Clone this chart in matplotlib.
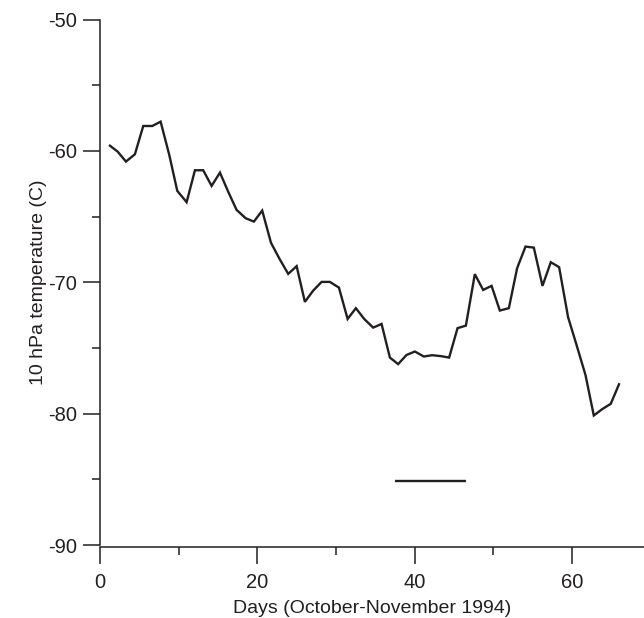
import matplotlib
matplotlib.use("Agg")
import matplotlib.pyplot as plt
from matplotlib.ticker import MultipleLocator

plt.rcParams['font.family'] = ['Liberation Sans', 'DejaVu Sans']

# Day positions (61 daily points)
days = [1.23, 2.21, 3.27, 4.41, 5.47, 6.62, 7.68, 8.78, 9.80, 10.99,
        12.05, 13.10, 14.17, 15.23, 16.28, 17.35, 18.50, 19.55, 20.61, 21.72,
        22.77, 23.92, 24.99, 26.04, 27.10, 28.17, 29.22, 30.37, 31.48, 32.53,
        33.59, 34.73, 35.80, 36.86, 37.91, 38.98, 40.04, 41.18, 42.24, 43.35,
        44.40, 45.47, 46.53, 47.67, 48.73, 49.80, 50.85, 52.00, 53.05, 54.12,
        55.18, 56.28, 57.34, 58.40, 59.54, 60.61, 61.75, 62.81, 63.87, 64.97,
        66.02]

temperature = [-59.60, -60.05, -60.81, -60.25, -58.10, -58.10, -57.77, -60.30, -63.04, -63.90,
               -61.47, -61.47, -62.66, -61.65, -63.10, -64.49, -65.12, -65.38, -64.54, -66.98,
               -68.17, -69.36, -68.77, -71.49, -70.63, -69.97, -69.97, -70.40, -72.79, -71.97,
               -72.79, -73.45, -73.17, -75.73, -76.23, -75.53, -75.27, -75.65, -75.55, -75.62,
               -75.73, -73.49, -73.30, -69.38, -70.58, -70.27, -72.15, -71.97, -68.93, -67.28,
               -67.36, -70.27, -68.47, -68.85, -72.66, -74.76, -77.05, -80.14, -79.66, -79.25,
               -77.76]

# Horizontal reference bar
bar_days = [37.5, 46.5]
bar_temp = [-85.1, -85.1]

xticks = [0, 20, 40, 60]
yticks = [-90, -80, -70, -60, -50]

ink = '#231f20'

fig = plt.figure(figsize=(6.44, 6.18), dpi=100)
ax = fig.add_axes([0.1557, 0.1181, 0.8443, 0.8502])

ax.plot(days, temperature, color=ink, lw=1.7, solid_joinstyle='miter')
ax.plot(bar_days, bar_temp, color=ink, lw=1.7, solid_capstyle='butt')

ax.set_xlim(0, 69.2)
ax.set_ylim(-90, -50)
ax.set_xticks(xticks)
ax.set_yticks(yticks)
ax.set_xticklabels([str(t) for t in xticks])
ax.set_yticklabels([str(t) for t in yticks])
ax.xaxis.set_minor_locator(MultipleLocator(10))
ax.yaxis.set_minor_locator(MultipleLocator(5))

for s in ['top', 'right']:
    ax.spines[s].set_visible(False)
for s in ['left', 'bottom']:
    ax.spines[s].set_color(ink)
    ax.spines[s].set_linewidth(1.1)
ax.spines['bottom'].set_position(('outward', 1.5))

ax.tick_params(which='major', direction='out', length=12.5, width=1.1, color=ink,
               labelsize=14.5, labelcolor=ink)
ax.tick_params(which='minor', direction='out', length=6, width=1.1, color=ink)
ax.tick_params(axis='y', which='major', pad=4)
ax.tick_params(axis='x', which='major', pad=6)

ax.set_xlabel('Days (October-November 1994)', fontsize=14, color=ink, labelpad=6)
ax.set_ylabel('10 hPa temperature (C)', fontsize=14, color=ink, labelpad=1)

fig.savefig('out.png', dpi=100)
